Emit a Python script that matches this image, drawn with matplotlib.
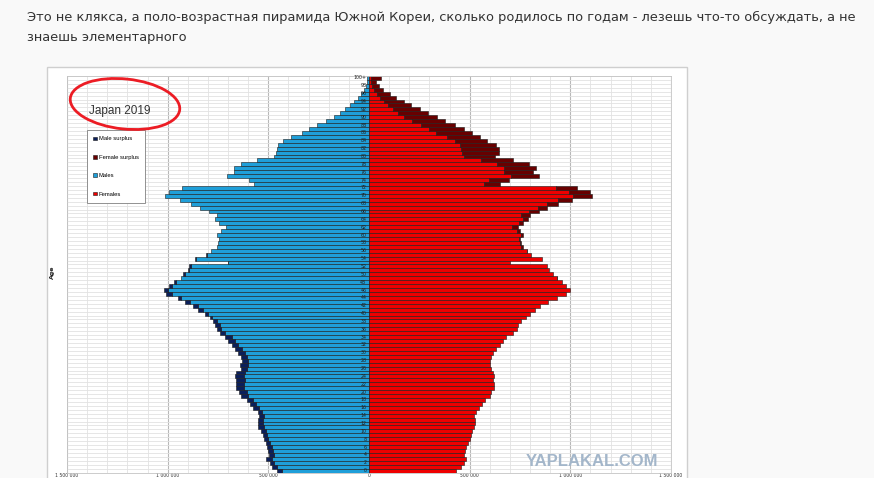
"""
Japan 2019 population pyramid, as embedded in a forum post screenshot.
"""
import numpy as np
import matplotlib.pyplot as plt
from matplotlib.patches import Ellipse, Rectangle

# population by single year of age (thousands), index = age, last = 100+
males_k = [
    459, 480, 492, 513, 497, 500, 508, 513, 520, 525,
    537, 549, 553, 549, 546, 549, 574, 591, 607, 636,
    645, 662, 662, 662, 668, 662, 636, 640, 632, 636,
    649, 665, 678, 698, 715, 740, 756, 765, 775, 789,
    814, 847, 875, 913, 951, 1007, 1020, 995, 971, 933,
    924, 900, 893, 701, 863, 809, 784, 756, 748, 745,
    756, 735, 710, 743, 764, 756, 797, 839, 883, 938,
    1012, 992, 929, 569, 594, 706, 670, 670, 636, 558,
    470, 464, 459, 454, 429, 385, 335, 299, 257, 216,
    175, 146, 121, 96, 74, 54, 38, 25, 13, 8,
    9,
]
females_k = [
    434, 459, 472, 484, 472, 475, 484, 492, 500, 505,
    511, 520, 525, 525, 521, 533, 546, 561, 578, 599,
    608, 619, 621, 616, 621, 616, 604, 599, 599, 604,
    616, 633, 649, 665, 682, 715, 735, 740, 757, 781,
    801, 826, 851, 889, 935, 980, 1000, 980, 958, 935,
    913, 894, 886, 698, 859, 806, 787, 765, 753, 748,
    765, 748, 740, 765, 790, 801, 843, 886, 938, 1008,
    1109, 1096, 1033, 649, 694, 843, 814, 828, 794, 715,
    624, 646, 646, 633, 588, 550, 512, 470, 425, 376,
    340, 293, 252, 211, 172, 133, 103, 69, 48, 37,
    58,
]
age_labels = [str(a) for a in range(0, 100, 2)] + ["100+"]
x_ticks = [-1500000, -1000000, -500000, 0, 500000, 1000000, 1500000]
x_tick_labels = ["1 500 000", "1 000 000", "500 000", "0",
                 "500 000", "1 000 000", "1 500 000"]
legend_labels = ["Male surplus", "Female surplus", "Males", "Females"]

post_text = ("Это не клякса, а поло-возрастная пирамида Южной Кореи, сколько родилось "
             "по годам - лезешь что-то обсуждать, а не")
post_text2 = "знаешь элементарного"

BLUE, RED = "#1f9fd9", "#ee0000"
NAVY, MAROON = "#0b1f5a", "#680000"
EDGE = "#1c1c1c"

ages = np.arange(len(males_k))
males = np.array(males_k) * 1000
females = np.array(females_k) * 1000
common = np.minimum(males, females)
male_surplus = males - females
female_surplus = females - males
m_idx = male_surplus > 0
f_idx = female_surplus > 0

W, H = 874, 478
fig = plt.figure(figsize=(W / 100, H / 100), dpi=100)
fig.patch.set_facecolor("#f9f9f9")

# background layer in pixel coordinates: post text and image frame
bg = fig.add_axes([0, 0, 1, 1], zorder=0)
bg.set_xlim(0, W)
bg.set_ylim(H, 0)
bg.axis("off")
bg.add_patch(Rectangle((47, 67), 640, 430, facecolor="white", edgecolor="#cfcfcf", lw=1))
bg.text(27, 17, post_text, fontsize=9.4, color="#333333", va="center", ha="left")
bg.text(27, 37, post_text2, fontsize=9.4, color="#333333", va="center", ha="left")
bg.text(52, 272, "Age", fontsize=4.5, rotation=90, va="center", ha="center",
        weight="bold", color="#222222")

# the pyramid itself
ax = fig.add_axes([67 / W, 1 - 472.6 / H, (671 - 67) / W, (472.6 - 76) / H], zorder=1)
ax.set_facecolor("white")
bar_kw = dict(height=1.0, edgecolor=EDGE, linewidth=0.4)
h_males = ax.barh(ages, -common, color=BLUE, **bar_kw)
h_msur = ax.barh(ages[m_idx], -male_surplus[m_idx], left=-common[m_idx], color=NAVY, **bar_kw)
h_females = ax.barh(ages, common, color=RED, **bar_kw)
h_fsur = ax.barh(ages[f_idx], female_surplus[f_idx], left=common[f_idx], color=MAROON, **bar_kw)

ax.set_xlim(-1500000, 1500000)
ax.set_ylim(-0.5, 100.5)
ax.set_xticks(x_ticks, x_tick_labels, fontsize=3.3, color="#333333")
ax.set_xticks(np.arange(-1500000, 1500001, 100000), minor=True)
ax.set_yticks([])
ax.set_yticks(np.arange(-0.5, 101, 1), minor=True)
ax.tick_params(which="both", length=0, pad=0.3)
ax.grid(which="minor", color="#e2e2e2", linewidth=0.6)
ax.grid(which="major", axis="x", color="#b8b8b8", linewidth=0.8)
ax.set_axisbelow(True)
for s in ax.spines.values():
    s.set_color("#c4c4c4")
    s.set_linewidth(0.6)

for a in range(0, 101, 2):
    ax.text(-13000, a, age_labels[a // 2], fontsize=3.4, ha="right", va="center",
            color="#202020")

leg = ax.legend([h_msur, h_fsur, h_males, h_females], legend_labels,
                loc="upper left", bbox_to_anchor=(87 / W, 1 - 130 / H),
                bbox_transform=fig.transFigure, prop={"family": "Liberation Sans", "size": 4.2},
                labelspacing=2.3, handlelength=0.55, handleheight=0.55, handletextpad=0.35,
                borderpad=1.1, borderaxespad=0, fancybox=False, framealpha=1)
leg.get_frame().set_edgecolor("#808080")
leg.get_frame().set_linewidth(0.6)

# overlay: title text, hand-drawn circle, watermark
ov = fig.add_axes([0, 0, 1, 1], zorder=2)
ov.set_xlim(0, W)
ov.set_ylim(H, 0)
ov.axis("off")
ov.patch.set_alpha(0)
ov.text(89, 111, "Japan 2019", fontsize=8.5, family="Liberation Sans", color="#333333",
        va="center", ha="left")
ov.add_patch(Ellipse((125, 104), 110, 50, angle=6, fill=False, edgecolor="#ec1c24", lw=2.0))
ov.text(592, 461, "YAPLAKAL.COM", fontsize=12, family="Liberation Sans", weight="bold",
        color="#a3b6ca", ha="center", va="center")

fig.savefig("out.png", dpi=100, facecolor=fig.get_facecolor())
